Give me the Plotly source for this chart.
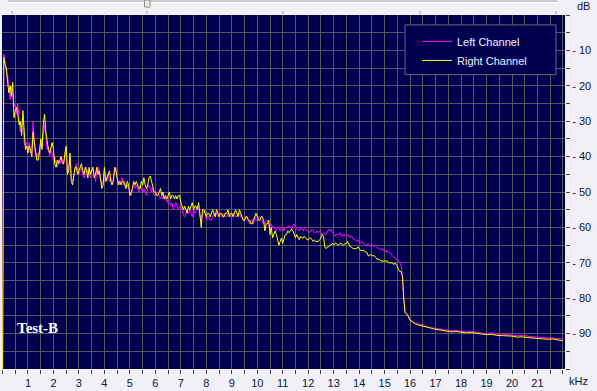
import plotly.graph_objects as go

# ---------------- data ----------------
# spectrum bins 0.00 .. 15.65 kHz, every 0.05 kHz
freq_main = [round(0.05 * i, 2) for i in range(314)]

left_main = [
    -105, -11, -13, -16, -17, -21, -24, -20, -22, -26, -25, -28, -25, -29, -33, -31, -30, -36, -37, -36,
    -38, -36, -39, -38, -30, -37, -40, -39, -40, -38, -36, -37, -33, -31, -34, -38, -37, -40, -38, -39,
    -41, -40, -42, -43, -41, -42, -40, -41, -42, -40, -38, -44, -43, -40, -46, -47, -45, -44, -42, -44,
    -45, -44, -43, -45, -46, -44, -43, -45, -44, -46, -43, -44, -45, -47, -44, -43, -45, -46, -48, -47,
    -44, -46, -47, -45, -47, -46, -48, -46, -44, -43, -46, -47, -48, -47, -46, -48, -47, -49, -48, -49,
    -50, -51, -49, -48, -49, -48, -49, -50, -48, -49, -50, -49, -50, -51, -49, -48, -49, -50, -49, -51,
    -51, -50, -50, -51, -52, -51, -52, -51, -52, -53, -52, -53, -54, -53, -55, -54, -53, -54, -55, -54,
    -54, -55, -56.5, -57, -56, -55, -56, -55, -56, -57, -55, -56, -55, -54, -55, -57, -58, -56, -56, -55,
    -58, -57, -57, -58, -58, -57, -56, -57, -56, -55.5, -57, -56, -57, -57, -56, -57, -57, -56, -56, -57,
    -57, -56, -56, -57, -57, -56, -56, -57, -57, -58, -58, -57, -57, -58, -59, -58, -58, -59, -57, -58,
    -58, -57, -57, -58, -58, -59, -59, -58, -58, -59, -60, -59, -60, -60, -60.5, -61, -60, -60, -61, -60,
    -60, -61, -60, -60, -60, -59.5, -60, -60.5, -59.5, -59, -60, -60.5, -60.5, -61, -60, -60.5, -61, -60, -60.5, -61,
    -61, -61.5, -61, -60.5, -61, -61.5, -61.5, -61, -61.5, -61, -61.5, -62, -61.5, -62, -62, -61, -60.5, -61, -60.5, -61.5,
    -62, -62.5, -62, -62, -62, -61.5, -62.5, -62, -62.5, -62, -62.5, -62, -62.5, -63, -62.5, -63, -63.5, -63.5, -64, -63.5,
    -64, -64.5, -64, -64.5, -64.5, -65, -65, -64.5, -65, -65.5, -65, -65, -65.5, -65, -65.5, -66, -66, -66.5, -66, -66.5,
    -66.5, -67, -66.5, -67, -67, -67.5, -68, -68.5, -68.5, -69, -69, -69.5, -70, -71,
]

right_main = [
    -105, -12, -14, -15, -19, -22, -20, -23, -19, -29, -27, -26, -28, -31, -30, -34, -27, -34, -38, -37,
    -39, -37, -38, -40, -33, -36, -39, -41, -41, -39, -35, -38, -31, -28, -33, -36, -38, -39, -37, -36,
    -38, -42, -43, -41, -42, -41, -40, -42, -42, -39, -37, -45, -44, -39, -47, -48, -46, -43, -43, -45,
    -44, -43, -42, -44, -45, -43, -44, -46, -43, -45, -44, -43, -46, -45, -43, -45, -44, -47, -49, -48,
    -43, -47, -46, -45, -44, -47, -48, -47, -43, -44, -46, -48, -47, -48, -47, -47, -48, -49, -47, -48,
    -51, -50, -49, -47, -48, -47, -48, -49, -49, -47, -48, -46, -48, -49, -48, -46, -45.5, -47, -49, -50,
    -50, -51, -51, -50, -49, -51, -50, -52, -51, -52, -51, -50, -52, -51, -51, -52, -51, -52, -51, -51,
    -53, -54, -55, -54, -55, -56, -54, -55, -54, -53, -55, -54, -54, -55, -53, -56, -60, -55, -55, -56,
    -57, -56, -56, -57, -56, -55, -56, -57, -55, -56, -57, -56, -56, -57, -57, -56, -56, -55, -57, -56,
    -56, -57, -56, -55, -56, -57, -55, -56, -57, -58, -58, -57, -57, -58, -58, -59, -59, -58, -57, -56,
    -57, -58, -58, -57, -57, -58, -61, -59, -59, -58, -62, -60, -63, -62, -61, -62, -64, -65, -64, -63,
    -64.5, -63, -62, -62, -61, -61.5, -61, -60.5, -61, -62, -63, -62, -63, -63.5, -62.5, -63, -63, -62.5, -63, -63.5,
    -63.5, -63, -63, -63.5, -64, -63.5, -64, -64, -64, -63.5, -63, -62, -62.5, -65.5, -66, -65.5, -65.5, -65, -65, -64.5,
    -65, -64.5, -64.5, -65, -65, -64.5, -64.5, -65, -65, -64.5, -64.5, -64, -65, -65.5, -65.5, -66, -66, -66, -66, -65.5,
    -66, -66.5, -66.5, -66.5, -66.5, -67, -67, -68, -68, -67.5, -68, -68, -68, -68.5, -69, -69, -69, -69.5, -69.5, -69.5,
    -69.5, -69.5, -69.5, -70, -70, -70, -70, -70.5, -70, -70.5, -71, -72, -72.5, -72.5,
]

# roll-off and noise floor
freq_tail = [15.7, 15.75, 15.8, 15.9, 16.0, 16.1, 16.2, 16.3, 16.4, 16.5, 16.6, 16.8, 17.0, 17.2, 17.4,
             17.6, 17.8, 18.0, 18.2, 18.4, 18.6, 18.8, 19.0, 19.2, 19.4, 19.6, 19.8, 20.0, 20.2, 20.4,
             20.6, 20.8, 21.0, 21.2, 21.4, 21.6, 21.8, 22.0]
left_tail = [-74, -80, -84, -84.5, -86, -86.5, -87, -87.2, -87.5, -87.4, -88, -88.3, -88.5, -88.7, -89,
             -89.2, -89, -89.4, -89.5, -89.3, -89.7, -89.9, -90, -89.8, -90.2, -90.1, -90.3, -90.4, -90.6, -90.5,
             -90.8, -90.9, -91, -91.1, -91.2, -91.1, -91.4, -91.5]
right_tail = [-74, -80, -84, -84.8, -86.3, -86.7, -87.3, -87.5, -87.7, -87.8, -88.2, -88.6, -88.8, -89, -89.3,
              -89.5, -89.4, -89.7, -89.8, -89.7, -90, -90.1, -90.3, -90.2, -90.5, -90.5, -90.7, -90.7, -91, -90.9,
              -91.1, -91.3, -91.3, -91.5, -91.6, -91.5, -91.8, -92]

assert len(left_main) == len(freq_main) == len(right_main), (len(left_main), len(right_main))
assert len(left_tail) == len(freq_tail) == len(right_tail)

freq_khz = freq_main + freq_tail
left_db = left_main + left_tail
right_db = right_main + right_tail

db_ticks = [-90, -80, -70, -60, -50, -40, -30, -20, -10]
db_labels = ["- 90", "- 80", "- 70", "- 60", "- 50", "- 40", "- 30", "- 20", "- 10"]
khz_ticks = list(range(1, 22))
khz_labels = [str(k) for k in khz_ticks]

# ---------------- layout helpers ----------------
W, H = 597, 391
ML, MR, MT, MB = 2, 32, 15, 20
PW, PH = W - ML - MR, H - MT - MB


def px(x):
    return (x - ML) / PW


def py(y):
    return (H - MB - y) / PH


NAVY = "#000050"
GRID = "#585858"
LABEL = "#10103a"

fig = go.Figure()
fig.add_trace(go.Scatter(x=freq_khz, y=left_db, mode="lines", name="Left Channel",
                         line=dict(color="#ff00ff", width=1)))
fig.add_trace(go.Scatter(x=freq_khz, y=right_db, mode="lines", name="Right Channel",
                         line=dict(color="#ffff00", width=1)))

shapes = []
# legend box
shapes.append(dict(type="rect", xref="paper", yref="paper", x0=px(405), x1=px(556), y0=py(75), y1=py(25),
                   fillcolor=NAVY, line=dict(color="#6a6a6a", width=1), layer="above"))
# top slider decoration
shapes.append(dict(type="line", xref="paper", yref="paper", x0=px(8), x1=px(557), y0=py(1), y1=py(1),
                   line=dict(color="#a0a0a0", width=1)))
shapes.append(dict(type="line", xref="paper", yref="paper", x0=px(8), x1=px(557), y0=py(2.5), y1=py(2.5),
                   line=dict(color="#ffffff", width=1)))
shapes.append(dict(type="rect", xref="paper", yref="paper", x0=px(144.5), x1=px(150), y0=py(7), y1=py(0),
                   fillcolor="#e8e8e8", line=dict(color="#909090", width=1)))
for tx in [12, 147, 283, 420, 556]:
    shapes.append(dict(type="line", xref="paper", yref="paper", x0=px(tx), x1=px(tx), y0=py(11), y1=py(14),
                       line=dict(color="#a0a0a0", width=1)))

fig.update_layout(
    width=W, height=H,
    margin=dict(l=ML, r=MR, t=MT, b=MB, pad=0),
    paper_bgcolor="#f0f0f6",
    plot_bgcolor=NAVY,
    font=dict(family="Liberation Sans, Arial, sans-serif", size=11, color=LABEL),
    showlegend=True,
    legend=dict(x=px(417), y=py(27), xanchor="left", yanchor="top",
                bgcolor="rgba(0,0,0,0)", borderwidth=0,
                font=dict(family="Liberation Sans, Arial, sans-serif", size=11, color="#f0f0ff"),
                itemwidth=30, tracegroupgap=0),
    shapes=shapes,
    xaxis=dict(range=[-0.02, 22.08], tickmode="array", tickvals=khz_ticks, ticktext=khz_labels,
               showgrid=True, gridcolor=GRID, gridwidth=1, zeroline=False, showline=False,
               ticks="outside", ticklen=4, tickcolor="#404040", tickfont=dict(size=11, color=LABEL),
               minor=dict(dtick=0.5, tick0=0, showgrid=True, gridcolor=GRID, gridwidth=1,
                          ticks="outside", ticklen=4, tickcolor="#404040"),
               fixedrange=True),
    yaxis=dict(range=[-100, 0], side="right", tickmode="array", tickvals=db_ticks, ticktext=db_labels,
               showgrid=True, gridcolor=GRID, gridwidth=1, zeroline=False, showline=False,
               ticks="outside", ticklen=4, tickcolor="#404040", tickfont=dict(size=11, color=LABEL),
               minor=dict(dtick=5, tick0=0, showgrid=True, gridcolor=GRID, gridwidth=1,
                          ticks="outside", ticklen=4, tickcolor="#404040"),
               fixedrange=True),
    annotations=[
        dict(text="dB", xref="paper", yref="paper", x=px(583), y=py(6), xanchor="center", yanchor="middle",
             showarrow=False, font=dict(size=11, color=LABEL)),
        dict(text="kHz", xref="paper", yref="paper", x=px(578), y=py(383), xanchor="center", yanchor="middle",
             showarrow=False, font=dict(size=11, color=LABEL)),
        dict(text="<b>Test-B</b>", xref="paper", yref="paper", x=px(37), y=py(330), xanchor="center",
             yanchor="middle", showarrow=False,
             font=dict(family="Liberation Serif, Times New Roman, serif", size=15, color="#ffffff")),
    ],
)

fig.write_html("out.html", config={"displayModeBar": False})
